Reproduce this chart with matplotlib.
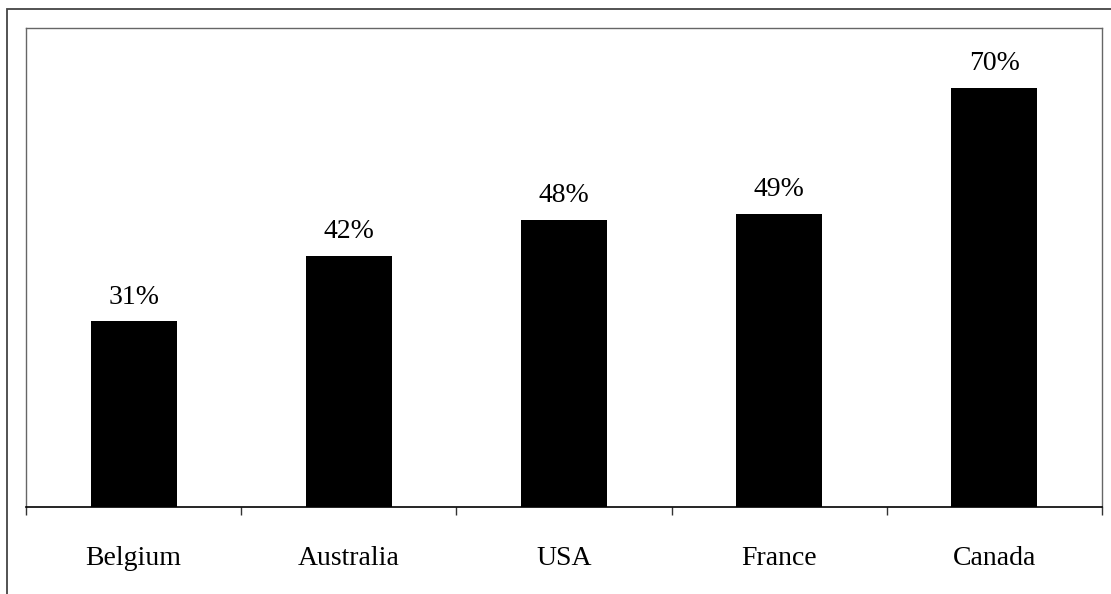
import matplotlib
matplotlib.use("Agg")
import matplotlib.pyplot as plt
from matplotlib.patches import Rectangle

countries = ["Belgium", "Australia", "USA", "France", "Canada"]
shares = [31, 42, 48, 49, 70]

plt.rcParams["font.family"] = ["Liberation Serif", "DejaVu Serif"]

W, H = 1111, 594
fig = plt.figure(figsize=(W / 100, H / 100), dpi=100)

# outer frame of the chart object (runs off the page on the right/bottom)
fig.add_artist(Rectangle((7 / W, -0.05), 1.1, 1.05 - 9 / H, transform=fig.transFigure,
                         fill=False, edgecolor="#444444", linewidth=1.3))

ax = fig.add_axes([26 / W, (H - 507) / H, (1102 - 26) / W, (507 - 28) / H])

x = list(range(len(countries)))
bars = ax.bar(x, shares, width=0.4, color="black")

for xi, v in zip(x, shares):
    ax.annotate(f"{v}%", (xi, v), xytext=(0, 24), textcoords="offset pixels",
                ha="center", va="center", fontsize=20)

ax.set_xlim(-0.5, len(countries) - 0.5)
ax.set_ylim(0, 80)

# tick marks between categories, labels centred under bars
ax.set_xticks([i - 0.5 for i in range(len(countries) + 1)])
ax.set_xticklabels([])
ax.set_xticks(x, minor=True)
ax.set_xticklabels(countries, minor=True, fontsize=20)
ax.tick_params(axis="x", which="major", length=6, width=1, direction="out", color="#333333")
ax.tick_params(axis="x", which="minor", length=0, pad=28)
ax.set_yticks([])

for side in ["top", "left", "right"]:
    ax.spines[side].set_linestyle((0, (1, 1)))
    ax.spines[side].set_color("#666666")
    ax.spines[side].set_linewidth(1)
ax.spines["bottom"].set_color("black")
ax.spines["bottom"].set_linewidth(1.2)

fig.savefig("out.png", dpi=100)
